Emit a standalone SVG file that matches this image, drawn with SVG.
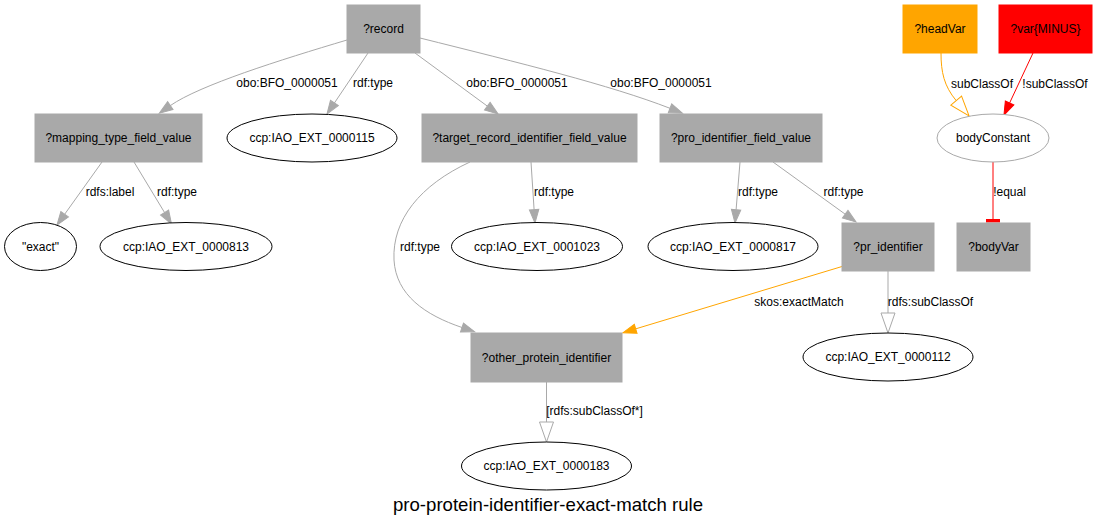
<svg xmlns="http://www.w3.org/2000/svg" width="1097" height="528" viewBox="0 0 1097 528">
<style>
text{font-family:"Liberation Sans",Arial,sans-serif;font-size:12px;fill:#000;text-anchor:middle}
.title{font-size:18.6px}
.box{fill:#a9a9a9;stroke:#a9a9a9}
.ell{fill:#fff;stroke:#000;stroke-width:1}
.e{fill:none;stroke:#a9a9a9;stroke-width:1}
.eo{fill:none;stroke:#ffa500;stroke-width:1}
.er{fill:none;stroke:#ff0000;stroke-width:1}
</style>
<defs>
<marker id="aG" markerUnits="userSpaceOnUse" markerWidth="25" markerHeight="20" viewBox="0 -10 25 20" refX="0" refY="0" orient="auto" overflow="visible"><path d="M0,-4.7 L13.3,0 L0,4.7 z" fill="#a9a9a9" stroke="#a9a9a9"/></marker>
<marker id="aO" markerUnits="userSpaceOnUse" markerWidth="25" markerHeight="20" viewBox="0 -10 25 20" refX="0" refY="0" orient="auto" overflow="visible"><path d="M0,-4.7 L13.3,0 L0,4.7 z" fill="#ffa500" stroke="#ffa500"/></marker>
<marker id="aR" markerUnits="userSpaceOnUse" markerWidth="25" markerHeight="20" viewBox="0 -10 25 20" refX="0" refY="0" orient="auto" overflow="visible"><path d="M0,-4.7 L13.3,0 L0,4.7 z" fill="#ff0000" stroke="#ff0000"/></marker>
<marker id="oG" markerUnits="userSpaceOnUse" markerWidth="25" markerHeight="20" viewBox="0 -10 25 20" refX="0" refY="0" orient="auto" overflow="visible"><path d="M0,-7 L20,0 L0,7 z" fill="#fff" stroke="#a9a9a9"/></marker>
<marker id="oO" markerUnits="userSpaceOnUse" markerWidth="25" markerHeight="20" viewBox="0 -10 25 20" refX="0" refY="0" orient="auto" overflow="visible"><path d="M0,-7 L20,0 L0,7 z" fill="#fff" stroke="#ffa500"/></marker>
</defs>
<rect width="1097" height="528" fill="#fff"/>
<g id="connectors">
<path class="e" d="M347,40 C280,60 200,85 170.3,105.6" marker-end="url(#aG)"/>
<text x="287" y="87">obo:BFO_0000051</text>
<path class="e" d="M368,53 L334.4,103" marker-end="url(#aG)"/>
<text x="373" y="87">rdf:type</text>
<path class="e" d="M415,53 L487.3,106.1" marker-end="url(#aG)"/>
<text x="517" y="87">obo:BFO_0000051</text>
<path class="e" d="M420,38 C520,63 610,85 670,108.3" marker-end="url(#aG)"/>
<text x="661" y="87">obo:BFO_0000051</text>
<path class="e" d="M102,162 L64.7,214.2" marker-end="url(#aG)"/>
<text x="110" y="196">rdfs:label</text>
<path class="e" d="M134,162 L164.6,212.6" marker-end="url(#aG)"/>
<text x="177" y="196">rdf:type</text>
<path class="e" d="M470,162 C420,185 392,220 394,260 C396,295 425,315 462,327.5" marker-end="url(#aG)"/>
<text x="420" y="251">rdf:type</text>
<path class="e" d="M531,162 L534.1,209.7" marker-end="url(#aG)"/>
<text x="554" y="196">rdf:type</text>
<path class="e" d="M740,162 L736.1,209.7" marker-end="url(#aG)"/>
<text x="758" y="196">rdf:type</text>
<path class="e" d="M773,162 L845.2,214.2" marker-end="url(#aG)"/>
<text x="843.5" y="196">rdf:type</text>
<path class="eo" d="M941,53 C941,72 944,86 956.2,100.6" marker-end="url(#oO)"/>
<text x="982" y="88">subClassOf</text>
<path class="er" d="M1033,53 L1009.6,103" marker-end="url(#aR)"/>
<text x="1055" y="88">!subClassOf</text>
<path class="er" d="M993,162 L993,219"/>
<rect x="986" y="219" width="14" height="3.5" fill="#ff0000"/>
<text x="1009.5" y="196">!equal</text>
<path class="eo" d="M842,266.5 L635.7,328.85" marker-end="url(#aO)"/>
<text x="799" y="306">skos:exactMatch</text>
<path class="e" d="M888,271 L888,313" marker-end="url(#oG)"/>
<text x="930.5" y="306">rdfs:subClassOf</text>
<path class="e" d="M546.5,382 L546.5,422" marker-end="url(#oG)"/>
<text x="594.5" y="415">[rdfs:subClassOf*]</text>
</g>
<g id="record"><rect class="box" x="347" y="5" width="73" height="48"/><text x="383.5" y="32.5">?record</text></g>
<g id="mapping_type_field_value"><rect class="box" x="35" y="114" width="167" height="48"/><text x="118.5" y="142">?mapping_type_field_value</text></g>
<g id="iao115"><ellipse class="ell" cx="312" cy="138" rx="85" ry="24"/><text x="312" y="142">ccp:IAO_EXT_0000115</text></g>
<g id="target_record_identifier_field_value"><rect class="box" x="422" y="114" width="215" height="48"/><text x="529.5" y="142">?target_record_identifier_field_value</text></g>
<g id="pro_identifier_field_value"><rect class="box" x="660" y="114" width="162" height="48"/><text x="741" y="142">?pro_identifier_field_value</text></g>
<g id="headVar"><rect x="903" y="5" width="74" height="48" fill="#ffa500" stroke="#ffa500"/><text x="940" y="32.5">?headVar</text></g>
<g id="varMinus"><rect x="999" y="5" width="93" height="48" fill="#ff0000" stroke="#ff0000"/><text x="1045.5" y="32.5">?var{MINUS}</text></g>
<g id="bodyConstant"><ellipse cx="993" cy="138" rx="56" ry="24" fill="#fff" stroke="#a9a9a9"/><text x="993" y="142">bodyConstant</text></g>
<g id="exact"><ellipse class="ell" cx="40.5" cy="246.5" rx="36" ry="24"/><text x="40.5" y="250.5">"exact"</text></g>
<g id="iao813"><ellipse class="ell" cx="186" cy="246.5" rx="86" ry="24"/><text x="186" y="250.5">ccp:IAO_EXT_0000813</text></g>
<g id="iao1023"><ellipse class="ell" cx="537" cy="246.5" rx="85.5" ry="24"/><text x="537" y="250.5">ccp:IAO_EXT_0001023</text></g>
<g id="iao817"><ellipse class="ell" cx="733" cy="246.5" rx="85" ry="24"/><text x="733" y="250.5">ccp:IAO_EXT_0000817</text></g>
<g id="pr_identifier"><rect class="box" x="842" y="223" width="92" height="48"/><text x="888" y="251">?pr_identifier</text></g>
<g id="bodyVar"><rect class="box" x="957" y="223" width="73" height="48"/><text x="993.5" y="251">?bodyVar</text></g>
<g id="other_protein_identifier"><rect class="box" x="471" y="333" width="151" height="49"/><text x="546.5" y="361.5">?other_protein_identifier</text></g>
<g id="iao112"><ellipse class="ell" cx="888" cy="357" rx="85" ry="24"/><text x="888" y="361">ccp:IAO_EXT_0000112</text></g>
<g id="iao183"><ellipse class="ell" cx="546.5" cy="466" rx="85" ry="24"/><text x="546.5" y="470">ccp:IAO_EXT_0000183</text></g>
<text class="title" x="548" y="511">pro-protein-identifier-exact-match rule</text>
</svg>
